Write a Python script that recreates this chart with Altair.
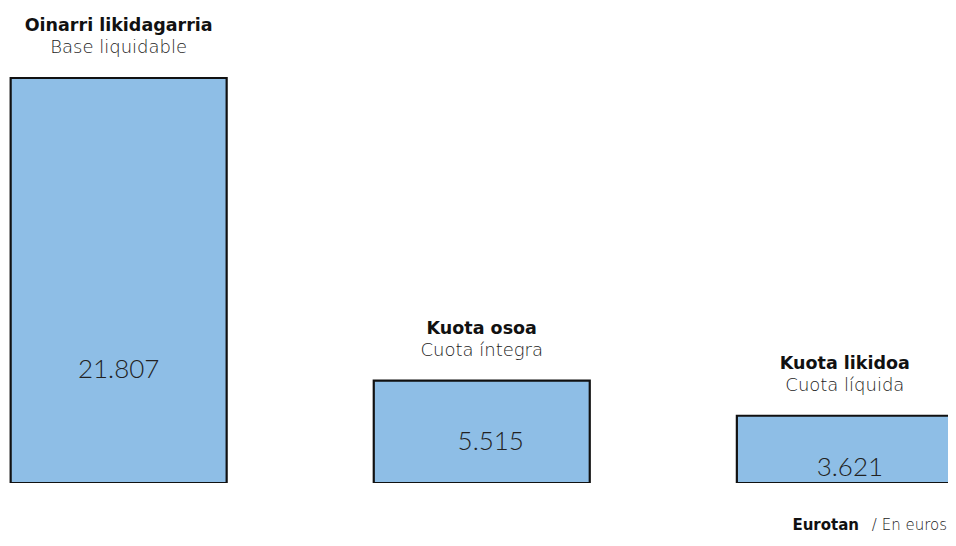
import altair as alt
import pandas as pd

keys = ["base", "osoa", "likidoa"]
position = [0, 1, 2]
titles_eu = ["Oinarri likidagarria", "Kuota osoa", "Kuota likidoa"]
titles_es = ["Base liquidable", "Cuota íntegra", "Cuota líquida"]
values = [21807, 5515, 3621]
value_labels = ["21.807", "5.515", "3.621"]
label_anchor = [6100, 2200, 830]
label_shift = [0, 9, 5]

df = pd.DataFrame({
    "key": keys,
    "pos": position,
    "eu": titles_eu,
    "es": titles_es,
    "value": values,
    "label": value_labels,
    "anchor": label_anchor,
})

TITLE_FONT = "DejaVu Sans"
VALUE_FONT = "Lato"

x = alt.X("pos:Q", axis=None,
          scale=alt.Scale(domain=[-0.291, 2.2703], nice=False, zero=False))
y_scale = alt.Scale(domain=[0, 25576], nice=False, zero=True)

base = alt.Chart(df)

bars = base.mark_bar(width=216, clip=True, color="#8ebee6", stroke="#111111",
                     strokeWidth=2.2).encode(
    x=x,
    y=alt.Y("value:Q", scale=y_scale, axis=None),
)

title_eu = base.mark_text(font=TITLE_FONT, fontSize=17.5, fontWeight="bold", color="#111111",
                          baseline="alphabetic", dy=-47).encode(
    x=x, y=alt.Y("value:Q", scale=y_scale), text="eu:N")

title_es = base.mark_text(font=TITLE_FONT, fontSize=18, fontWeight=200, color="#222222",
                          baseline="alphabetic", dy=-25).encode(
    x=x, y=alt.Y("value:Q", scale=y_scale), text="es:N")

val_layers = []
for k, s in zip(keys, label_shift):
    val_layers.append(
        base.transform_filter(alt.datum.key == k).mark_text(
            font=VALUE_FONT, fontSize=26, fontWeight=300, color="#222222",
            baseline="middle", dx=s).encode(
            x=x, y=alt.Y("anchor:Q", scale=y_scale), text="label:N")
    )

foot = pd.DataFrame({"a": ["Eurotan"], "b": ["/ En euros"]})
foot1 = alt.Chart(foot).mark_text(font=TITLE_FONT, fontSize=15, fontWeight="bold", color="#111111",
                                  align="right", baseline="alphabetic").encode(
    x=alt.value(851), y=alt.value(522), text="a:N")
foot2 = alt.Chart(foot).mark_text(font=TITLE_FONT, fontSize=15, fontWeight=200, color="#222222",
                                  align="right", baseline="alphabetic").encode(
    x=alt.value(939), y=alt.value(522), text="b:N")

chart = alt.layer(bars, title_eu, title_es, *val_layers, foot1, foot2).properties(
    width=940, height=475,
    autosize="none",
    padding={"left": 0, "top": 0, "right": 0, "bottom": 55},
    background="white",
).configure_view(stroke=None)

chart.save("out.html", embed_options={"renderer": "svg", "actions": False})
